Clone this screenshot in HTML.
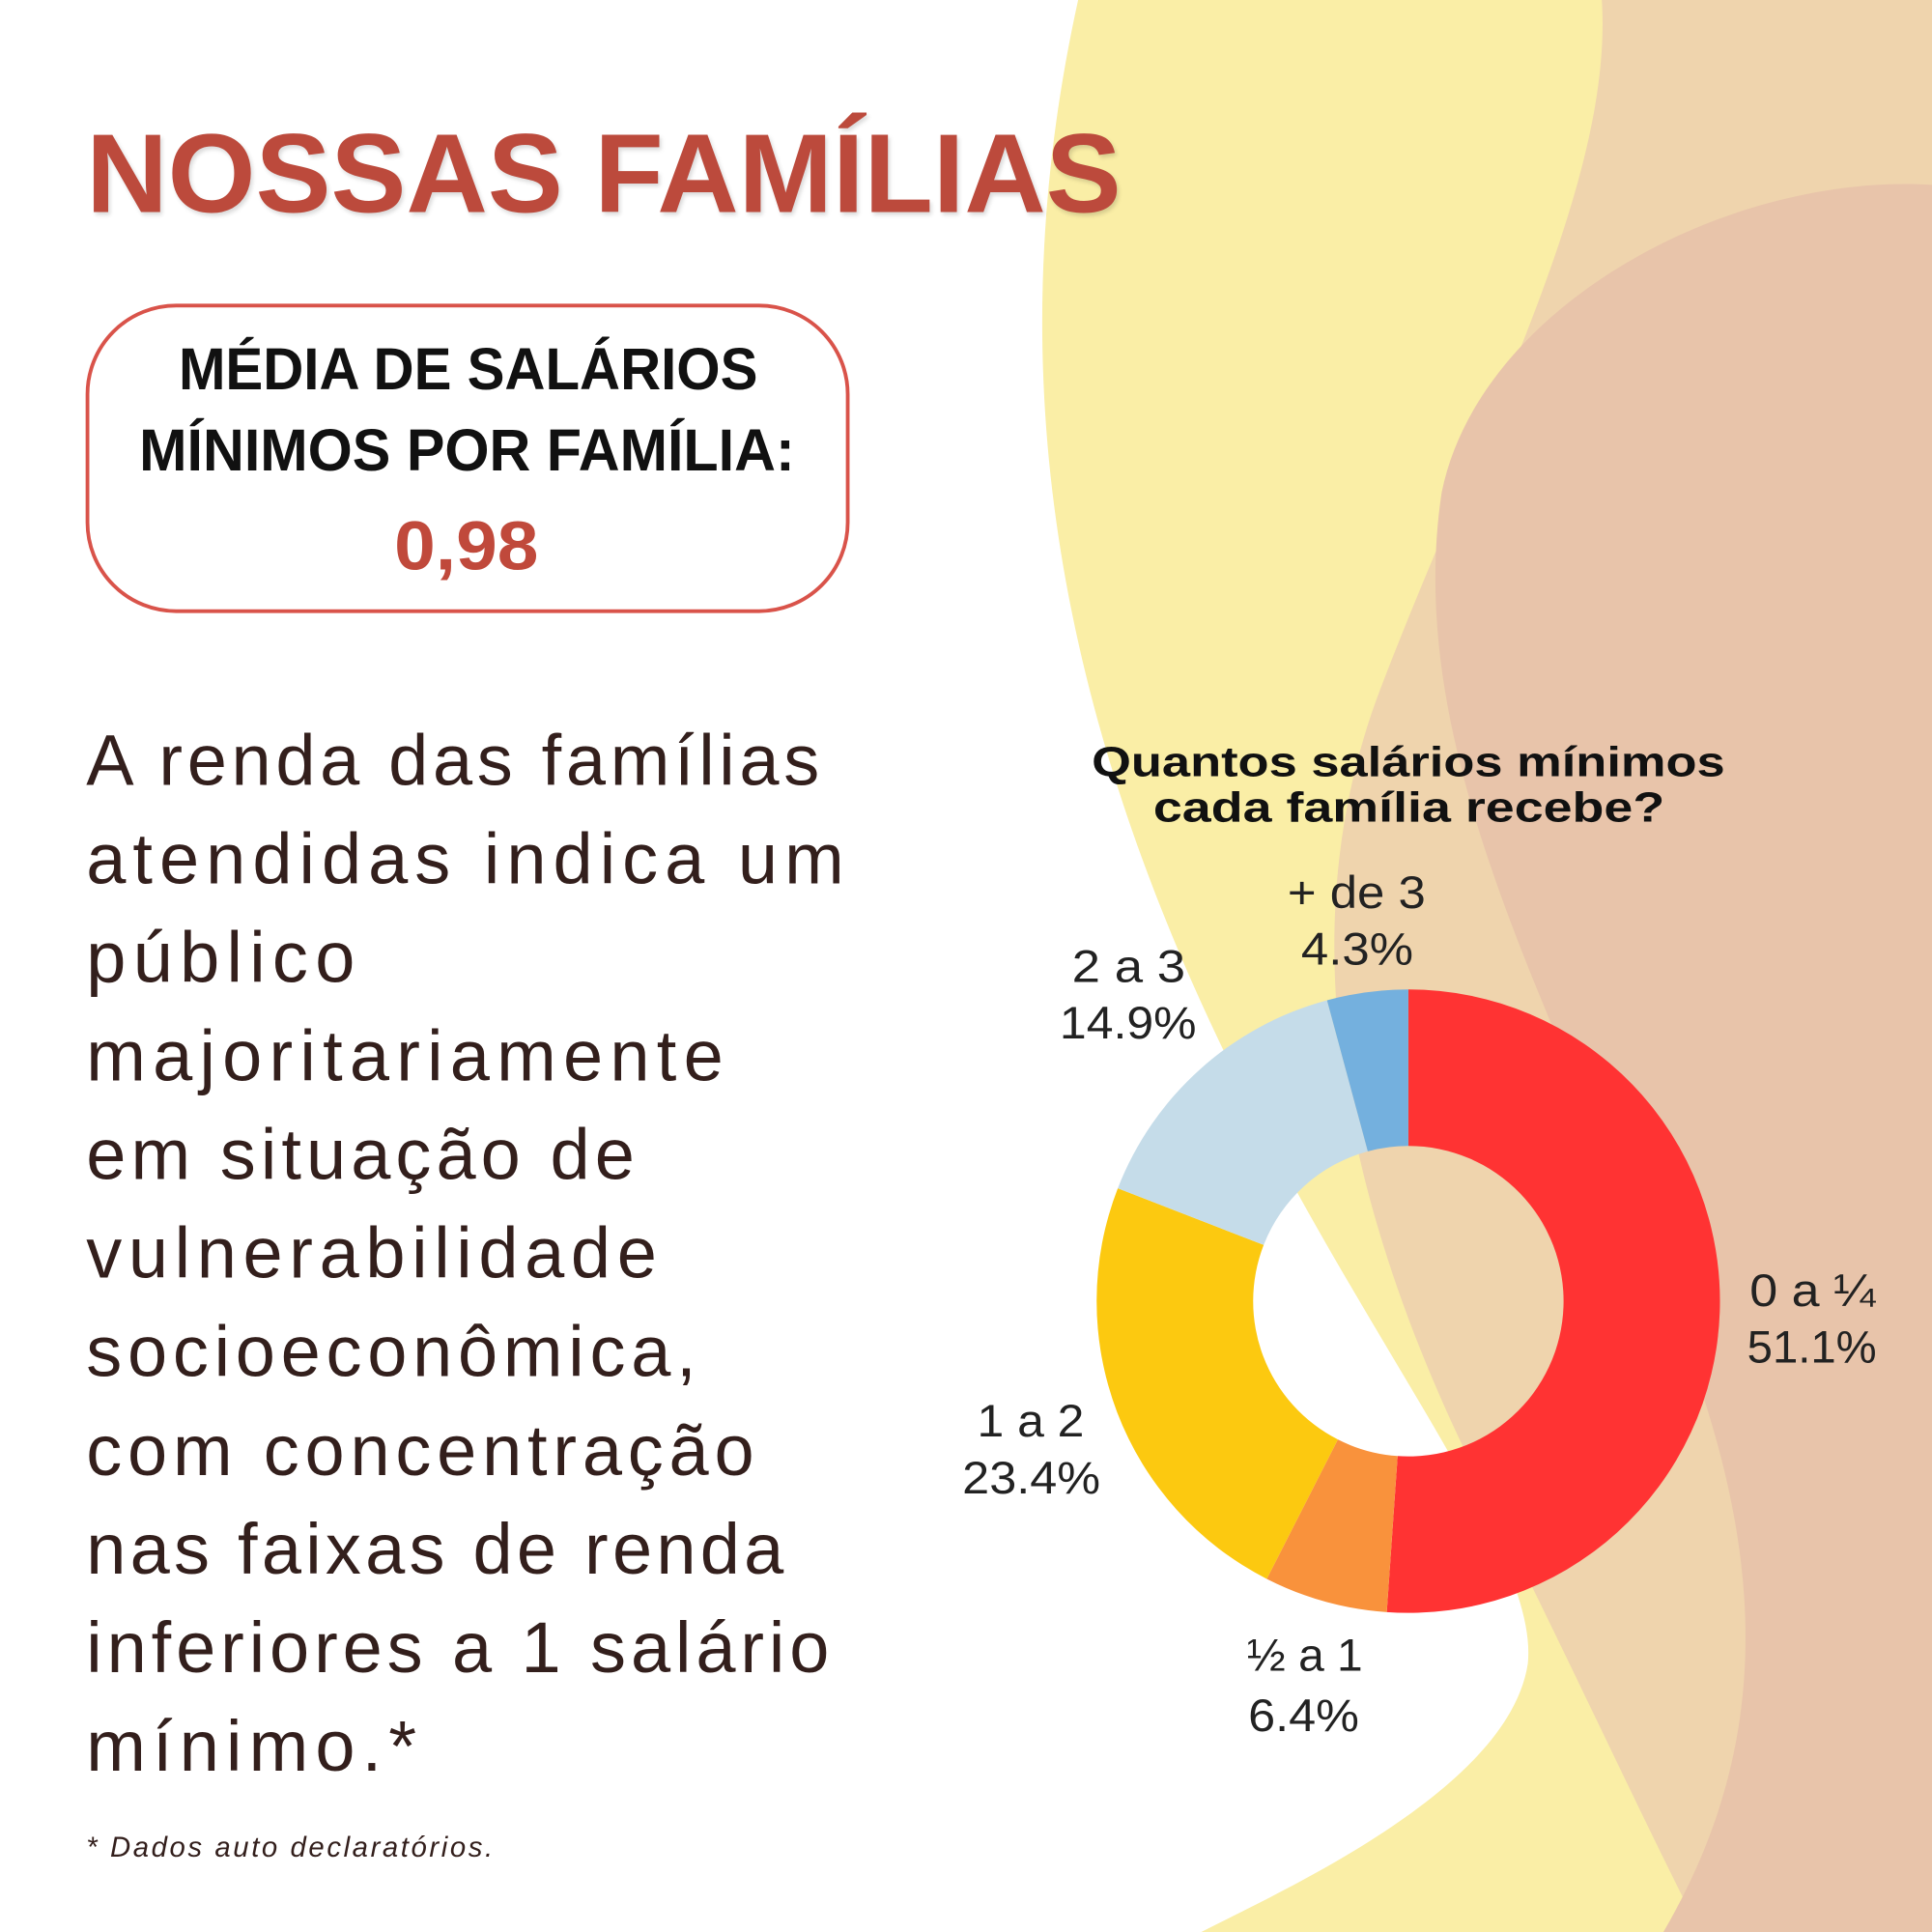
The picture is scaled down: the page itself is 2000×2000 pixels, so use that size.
<!DOCTYPE html>
<html><head><meta charset="utf-8"><style>html,body{margin:0;padding:0;background:#fff}svg{display:block}</style></head>
<body>
<svg width="2000" height="2000" viewBox="0 0 1568 1568" xmlns="http://www.w3.org/2000/svg">
<rect width="1568" height="1568" fill="#fff"/>
<path d="M875 0 C820 250,840 500,960 780 C1080 1060,1250 1250,1240 1350 C1225 1450,1050 1530,975 1568 L1568 1568 L1568 0 Z" fill="#faeea6"/>
<path d="M1300 0 C1310 150,1200 350,1120 560 C1040 770,1100 1000,1200 1200 C1280 1360,1330 1470,1380 1568 L1568 1568 L1568 0 Z" fill="#efd4ad"/>
<path d="M1568 150 C1400 140,1200 250,1170 400 C1140 600,1250 800,1330 1000 C1420 1200,1460 1380,1350 1568 L1568 1568 Z" fill="#e8c4aa"/>

<text x="70" y="172" font-family="Liberation Sans, sans-serif" font-weight="bold" font-size="91" fill="#bc4a3c" textLength="840" lengthAdjust="spacingAndGlyphs" style="text-shadow:2px 3px 4px rgba(0,0,0,0.15)">NOSSAS FAMÍLIAS</text>

<rect x="71" y="248" width="617" height="248" rx="72" fill="#fff" stroke="#d9534a" stroke-width="3"/>
<g font-family="Liberation Sans, sans-serif" font-weight="bold">
<text x="145" y="316" font-size="48" fill="#111" textLength="470" lengthAdjust="spacingAndGlyphs">MÉDIA DE  SALÁRIOS</text>
<text x="113" y="382" font-size="48" fill="#111" textLength="532" lengthAdjust="spacingAndGlyphs">MÍNIMOS POR FAMÍLIA:</text>
<text x="320" y="462" font-size="56" fill="#c0493b" textLength="117" lengthAdjust="spacingAndGlyphs">0,98</text>
</g>

<g font-family="Liberation Sans, sans-serif" font-size="58" fill="#331f1c">
<text x="70" y="637" textLength="595" lengthAdjust="spacing">A renda das famílias</text>
<text x="70" y="717" textLength="615" lengthAdjust="spacing">atendidas indica  um</text>
<text x="70" y="797" textLength="218" lengthAdjust="spacing">público</text>
<text x="70" y="877" textLength="517" lengthAdjust="spacing">majoritariamente</text>
<text x="70" y="957" textLength="445" lengthAdjust="spacing">em situação de</text>
<text x="70" y="1037" textLength="463" lengthAdjust="spacing">vulnerabilidade</text>
<text x="70" y="1117" textLength="495" lengthAdjust="spacing">socioeconômica,</text>
<text x="70" y="1197" textLength="542" lengthAdjust="spacing">com concentração</text>
<text x="70" y="1277" textLength="566" lengthAdjust="spacing">nas faixas de renda</text>
<text x="70" y="1357" textLength="603" lengthAdjust="spacing">inferiores a 1 salário</text>
<text x="70" y="1437" textLength="268" lengthAdjust="spacing">mínimo.*</text>
</g>
<text x="70" y="1507" font-family="Liberation Sans, sans-serif" font-style="italic" font-size="23" fill="#331f1c" textLength="330" lengthAdjust="spacing">* Dados auto declaratórios.</text>

<g font-family="Liberation Sans, sans-serif" font-weight="bold" font-size="34" fill="#111">
<text x="886" y="630" textLength="514" lengthAdjust="spacingAndGlyphs">Quantos salários mínimos</text>
<text x="936" y="667" textLength="415" lengthAdjust="spacingAndGlyphs">cada família recebe?</text>
</g>

<path d="M1143 803 A253 253 0 1 1 1125.5 1308.4 L1134.3 1181.7 A126 126 0 1 0 1143 930 Z" fill="#ff3333"/>
<path d="M1125.5 1308.4 A253 253 0 0 1 1028.1 1281.4 L1085.8 1168.3 A126 126 0 0 0 1134.3 1181.7 Z" fill="#f9923c"/>
<path d="M1028.1 1281.4 A253 253 0 0 1 907.2 964.4 L1025.6 1010.4 A126 126 0 0 0 1085.8 1168.3 Z" fill="#fcc910"/>
<path d="M907.2 964.4 A253 253 0 0 1 1077 811.8 L1110.1 934.4 A126 126 0 0 0 1025.6 1010.4 Z" fill="#c5dce9"/>
<path d="M1077 811.8 A253 253 0 0 1 1143 803 L1143 930 A126 126 0 0 0 1110.1 934.4 Z" fill="#74b0de"/>

<g font-family="Liberation Sans, sans-serif" font-size="37" fill="#222">
<text x="1045" y="737" textLength="112" lengthAdjust="spacingAndGlyphs">+ de 3</text>
<text x="1056" y="783" textLength="91" lengthAdjust="spacingAndGlyphs">4.3%</text>
<text x="870" y="797" textLength="92" lengthAdjust="spacingAndGlyphs">2 a 3</text>
<text x="860" y="843" textLength="111" lengthAdjust="spacingAndGlyphs">14.9%</text>
<text x="1420" y="1060" textLength="102" lengthAdjust="spacingAndGlyphs">0 a ¼</text>
<text x="1418" y="1106" textLength="105" lengthAdjust="spacingAndGlyphs">51.1%</text>
<text x="793" y="1166" textLength="87" lengthAdjust="spacingAndGlyphs">1 a 2</text>
<text x="781" y="1212" textLength="112" lengthAdjust="spacingAndGlyphs">23.4%</text>
<text x="1012" y="1356" textLength="94" lengthAdjust="spacingAndGlyphs">½ a 1</text>
<text x="1013" y="1405" textLength="90" lengthAdjust="spacingAndGlyphs">6.4%</text>
</g>
</svg>
</body></html>
